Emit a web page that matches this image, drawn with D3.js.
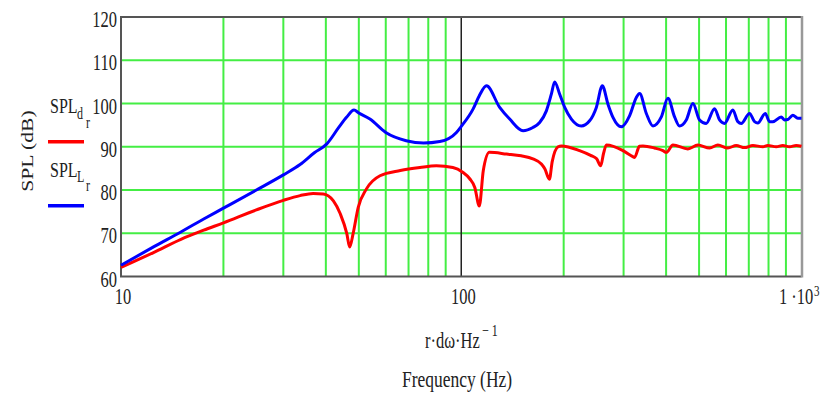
<!DOCTYPE html>
<html>
<head>
<meta charset="utf-8">
<script src="https://cdn.jsdelivr.net/npm/d3@7"></script>
<style>
  body { margin: 0; background: #fff; }
  text { font-family: "Liberation Serif", "Times New Roman", serif; fill: #222; }
</style>
</head>
<body>
<div id="chart"></div>
<script>
// values (frequency in Hz, level in dB)
var spl_d = [
	[10,62.1],[12.5,65.6],[15,68.6],[17.5,70.7],[20,72.4],[25,75.4],[30,77.6],[33.6,78.7],[36.7,79.2],
	[39.3,79.1],[42.1,77.5],[44.1,74.5],[46.1,69.9],[47,66.8],[48.1,69.9],[49.8,76],[52.6,80.2],
	[57.7,83.3],[66.2,84.5],[75.6,85.2],[84.5,85.6],[94.5,85.2],[101,84.1],[105.9,82.6],[109.6,80.6],
	[113,76.3],[116.1,84.5],[121,88.7],[136,88.3],[150,87.9],[162.4,87.2],[172,86],[176,84.9],
	[181.6,82.5],[185,86.5],[192.6,90],[197,90.2],[222.7,89.1],[240,88],[250,87.2],[257,85.6],
	[262,88.5],[267,90.4],[298.8,89.1],[319.3,87.7],[323,87.5],[334,90.1],[342,90.2],[370,89.7],
	[391.6,89.1],[400.6,88.7],[419,90.4],[463.5,89.5],[496,90.4],[537,89.7],[567.8,90.4],[607.5,89.7],
	[643,90.3],[680,89.8],[719.5,90.3],[770,90],[796,90.3],[843,90],[881,90.3],[922,90],
	[964.6,90.3],[1000,90.1]
];

var spl_L = [
	[10,62.6],[12.5,66.9],[15,70.3],[17.5,73.3],[20,75.8],[25,80],[30,83.5],[33.6,85.9],[37,88.6],
	[40.2,90.6],[43.6,94.4],[46,96.8],[48.4,98.5],[50,97.8],[53.9,96.4],[60,93.3],[68.9,91.4],
	[77.5,90.85],[86.5,91.2],[96.8,93.3],[100,94.7],[108.3,98.7],[113,101.8],[118.6,104.1],[129.7,99.1],
	[138.8,96.4],[151.9,93.7],[162.4,94.45],[170,95.6],[177.9,98.3],[184,102.15],[188.2,105],[194.7,102.15],
	[201.4,99.1],[210.7,96.4],[225.4,94.8],[238.4,96],[249.5,99.1],[259.8,104.1],[269.9,99.85],[279.2,96.8],
	[295.4,94.6],[312.6,97.2],[327,101.4],[334.4,102.3],[349.9,97.7],[366,94.8],[387.3,96.9],[405,101.2],
	[423.6,96.9],[438,94.8],[458.5,96.2],[479.6,100],[501.6,96.2],[524.8,95.4],[555.3,98.8],[574.3,96.2],
	[594,95.4],[628.4,98.5],[650,95.8],[665,95.4],[703.6,97.7],[727.8,95.8],[744,95.5],[782.5,97.7],
	[805.4,95.8],[823.6,95.8],[871.7,96.9],[891,96.2],[911.5,96.3],[942.9,97.3],[975,96.6],[1000,96.6]
];

var yTicks = [60, 70, 80, 90, 100, 110, 120];
var yGrid = [70, 80, 90, 100, 110];
var xGrid = [20, 30, 40, 50, 60, 70, 80, 90, 200, 300, 400, 500, 600, 700, 800, 900];
var xTickLabels = [[10, "10"], [100, "100"]];

var svg = d3.select('#chart')
	.append('svg')
	.attr('width', 825)
	.attr('height', 393);

var x = d3.scaleLog().domain([10, 1000]).range([121, 801.5]);
var y = d3.scaleLinear().domain([60, 120]).range([276.5, 17]);

// text in the picture is tall and narrow, so stretch it vertically
function label(px, py, str, size, anchor, rot) {
	return svg.append('text')
		.attr('transform', 'translate(' + px + ',' + py + ') scale(1,1.35)' + (rot ? ' rotate(' + rot + ')' : ''))
		.attr('text-anchor', anchor || 'start')
		.style('font-size', size + 'px')
		.text(str);
}

// grid
svg.selectAll('.vgrid')
	.data(xGrid)
	.enter().append('line')
	.attr('x1', function(d){ return x(d); })
	.attr('x2', function(d){ return x(d); })
	.attr('y1', y(120)).attr('y2', y(60))
	.style('stroke', '#44ee44')
	.style('stroke-width', 2);

svg.selectAll('.hgrid')
	.data(yGrid)
	.enter().append('line')
	.attr('x1', x(10)).attr('x2', x(1000))
	.attr('y1', function(d){ return y(d); })
	.attr('y2', function(d){ return y(d); })
	.style('stroke', '#44ee44')
	.style('stroke-width', 2);

svg.append('line')
	.attr('x1', x(100)).attr('x2', x(100))
	.attr('y1', y(120)).attr('y2', y(60))
	.style('stroke', '#222')
	.style('stroke-width', 1.5);

// frame
svg.append('path')
	.attr('d', 'M' + x(1000) + ',' + y(120) + 'H' + x(10) + 'V' + y(60) + 'H' + x(1000))
	.style('fill', 'none')
	.style('stroke', '#555')
	.style('stroke-width', 2);
svg.append('line')
	.attr('x1', x(1000) + 0.5).attr('x2', x(1000) + 0.5)
	.attr('y1', y(120) - 1).attr('y2', y(60) + 1)
	.style('stroke', '#999')
	.style('stroke-width', 2.5);

// curves
var line = d3.line()
	.x(function(d){ return x(d[0]); })
	.y(function(d){ return y(d[1]); })
	.curve(d3.curveMonotoneX);

svg.append('path')
	.datum(spl_d)
	.attr('d', line)
	.style('fill', 'none')
	.style('stroke', '#ff0000')
	.style('stroke-width', 3);

svg.append('path')
	.datum(spl_L)
	.attr('d', line)
	.style('fill', 'none')
	.style('stroke', '#0000ff')
	.style('stroke-width', 3);

// tick labels
yTicks.forEach(function(v){
	label(117, y(v) + 10, String(v), 16.5, 'end');
});
xTickLabels.forEach(function(t){
	label(x(t[0]) + 2, 304, t[1], 16.5, 'middle');
});
label(779, 304, '1 \u00b710', 16.5, 'start');
label(814, 296, '3', 11, 'start');

// axis titles
label(425, 348, 'r\u00b7d\u03c9\u00b7Hz', 16.5, 'start');
label(482, 336, '\u2212 1', 12, 'start');
label(457, 386.5, 'Frequency (Hz)', 17.5, 'middle');
label(33, 151, 'SPL (dB)', 16, 'middle', -90);

// legend
label(50, 113.3, 'SPL', 16, 'start');
label(77, 118.5, 'd', 12, 'start');
label(86, 128, 'r', 12, 'start');
svg.append('line')
	.attr('x1', 48).attr('x2', 84)
	.attr('y1', 141.7).attr('y2', 141.7)
	.style('stroke', '#ff0000')
	.style('stroke-width', 3.5);

label(50, 176.7, 'SPL', 16, 'start');
label(77, 182, 'L', 12, 'start');
label(86, 191, 'r', 12, 'start');
svg.append('line')
	.attr('x1', 48).attr('x2', 84)
	.attr('y1', 205.7).attr('y2', 205.7)
	.style('stroke', '#0000ff')
	.style('stroke-width', 3.5);
</script>
</body>
</html>
